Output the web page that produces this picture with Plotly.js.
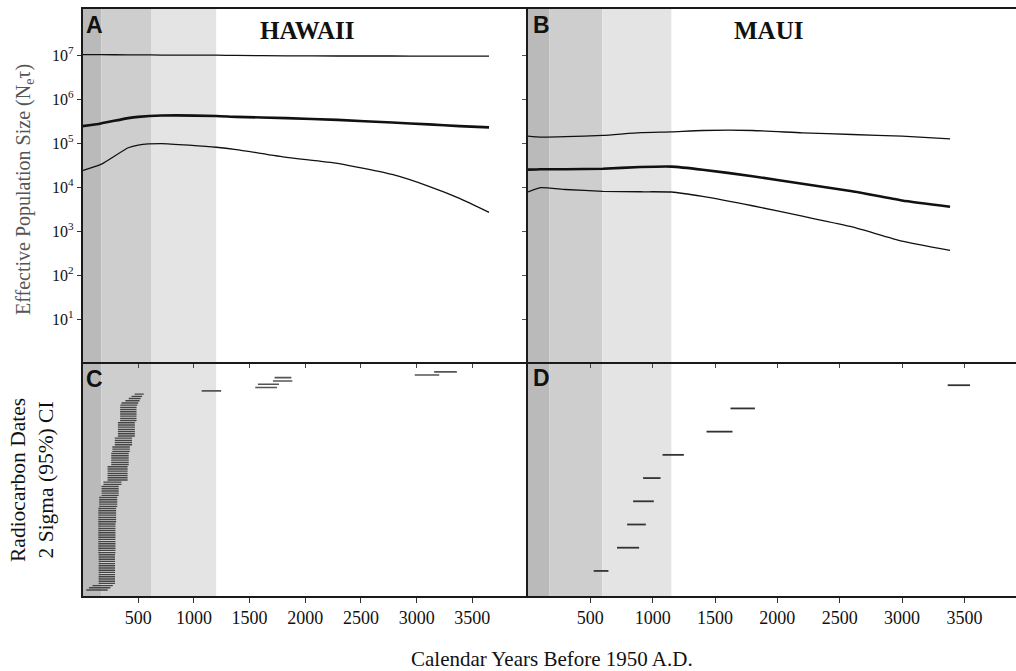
<!DOCTYPE html>
<html><head><meta charset="utf-8">
<script src="https://cdn.plot.ly/plotly-3.0.1.min.js"></script>
<style>html,body{margin:0;padding:0;background:#fff}</style>
</head><body><div id="chart" style="width:1016px;height:671px"></div>
<script>
// ---- Panel A: Hawaii effective population size (years before 1950 AD) ----
const hawaiiYears  = [0, 165, 410, 500, 710, 1200, 1380, 1830, 2290, 2780, 3110, 3385, 3650];
const hawaiiUpper  = [1.03e7, 1.03e7, 1.02e7, 1.02e7, 1.01e7, 1.0e7, 9.9e6, 9.7e6, 9.6e6, 9.6e6, 9.5e6, 9.5e6, 9.5e6];
const hawaiiMedian = [245000, 282000, 372000, 398000, 427000, 417000, 398000, 372000, 339000, 295000, 269000, 245000, 229000];
const hawaiiLower  = [24000, 33000, 79000, 91000, 98000, 81000, 72000, 48000, 35000, 19500, 10500, 5600, 2700];

// ---- Panel B: Maui ----
const mauiYears  = [0, 100, 300, 600, 900, 1150, 1400, 1800, 2200, 2600, 3000, 3385];
const mauiUpper  = [145000, 138000, 141000, 151000, 174000, 182000, 195000, 195000, 172000, 158000, 145000, 126000];
const mauiMedian = [25100, 25700, 25700, 26300, 28800, 29500, 25100, 17800, 12000, 8100, 5000, 3600];
const mauiLower  = [7800, 9800, 8900, 8100, 7900, 7800, 6200, 3800, 2200, 1260, 600, 370];

// ---- Panel C: Hawaii radiocarbon dates, 2 sigma ranges (bottom to top) ----
const hawaiiDateLow = [34, 58, 90,
  145,145,145,145,145,145,145,145,145,145,145,145,145,145,
  142,142,142,142,142,142,142,142,142,142,142,142,142,142,
  142,142,142,142,142,142,142,
  150,150,150,150,150,
  170,170,170,170,170,
  188,188,
  225,225,225,225,225,225,225,
  258,258,258,258,258,258,
  268,268,268,
  290,290,290,290,
  318,318,318,318,318,318,318,
  338,338,338,338,338,338,338,
  340,350,385,415,440,468];
const hawaiiDateHigh = [226, 250, 272,
  292,292,292,292,292,292,292,292,292,292,292,292,292,292,
  296,296,296,296,296,296,296,296,296,296,296,296,296,296,
  302,302,302,302,302,302,302,
  312,312,312,312,312,
  325,325,325,325,325,
  350,350,
  405,405,405,405,405,405,405,
  415,415,415,415,415,415,
  425,425,425,
  445,445,445,445,
  470,470,470,470,470,470,470,
  485,485,485,485,485,485,485,
  492,500,512,522,535,550];
const hawaiiOldRank = [91.5, 93, 94.5, 96, 97.5, 98.7, 100.1];
const hawaiiOldLow  = [1070, 1551, 1575, 1710, 1725, 2983, 3157];
const hawaiiOldHigh = [1245, 1746, 1764, 1884, 1875, 3203, 3361];

// ---- Panel D: Maui radiocarbon dates ----
const mauiDateLow  = [527, 714, 795, 843, 923, 1079, 1432, 1624, 3366];
const mauiDateHigh = [645, 891, 945, 1009, 1063, 1250, 1640, 1820, 3545];

// ---- Shaded periods ----
const hawaiiBandStart = [0, 170, 615];
const hawaiiBandEnd   = [170, 615, 1200];
const mauiBandStart   = [0, 170, 595];
const mauiBandEnd     = [170, 595, 1150];
const bandColors      = ['#bababa', '#cecece', '#e4e4e4'];

const xTicks = [500, 1000, 1500, 2000, 2500, 3000, 3500];
const yTickVals = [1e1, 1e2, 1e3, 1e4, 1e5, 1e6, 1e7];
const yTickText = ['10<sup>1</sup>','10<sup>2</sup>','10<sup>3</sup>','10<sup>4</sup>','10<sup>5</sup>','10<sup>6</sup>','10<sup>7</sup>'];

// ---- layout geometry ----
const W = 1016, H = 671;
const L = 82.5 / W, M = 528 / W;
const topDom = [1 - 362 / H, 1 - 9 / H];
const botDom = [1 - 596 / H, 1 - 362 / H];
const serif = 'Liberation Serif, Times New Roman, serif';
const sans = 'Liberation Sans, Arial, sans-serif';

function segs(lows, highs, ranks) {
  const x = [], y = [];
  for (let i = 0; i < lows.length; i++) {
    x.push(lows[i], highs[i], null);
    y.push(ranks[i], ranks[i], null);
  }
  return {x, y};
}
const cRanks = hawaiiDateLow.map((_, i) => i + 1);
const cMain = segs(hawaiiDateLow, hawaiiDateHigh, cRanks);
const cOld = segs(hawaiiOldLow, hawaiiOldHigh, hawaiiOldRank);
const dRanks = mauiDateLow.map((_, i) => i + 1);
const dMain = segs(mauiDateLow, mauiDateHigh, dRanks);

const lineT = (x, y, w, xa, ya) => ({type: 'scatter', mode: 'lines', x, y, xaxis: xa, yaxis: ya,
  line: {color: '#111', width: w, shape: 'spline', smoothing: 0.5}, hoverinfo: 'skip', showlegend: false});

const traces = [
  lineT(hawaiiYears, hawaiiUpper, 1.3, 'x', 'y'),
  lineT(hawaiiYears, hawaiiMedian, 2.6, 'x', 'y'),
  lineT(hawaiiYears, hawaiiLower, 1.3, 'x', 'y'),
  lineT(mauiYears, mauiUpper, 1.3, 'x2', 'y2'),
  lineT(mauiYears, mauiMedian, 2.6, 'x2', 'y2'),
  lineT(mauiYears, mauiLower, 1.3, 'x2', 'y2'),
  {type: 'scatter', mode: 'lines', x: cMain.x, y: cMain.y, xaxis: 'x3', yaxis: 'y3', connectgaps: false,
   line: {color: '#444', width: 1.4}, showlegend: false, hoverinfo: 'skip'},
  {type: 'scatter', mode: 'lines', x: cOld.x, y: cOld.y, xaxis: 'x3', yaxis: 'y3', connectgaps: false,
   line: {color: '#555', width: 1.6}, showlegend: false, hoverinfo: 'skip'},
  {type: 'scatter', mode: 'lines', x: dMain.x, y: dMain.y, xaxis: 'x4', yaxis: 'y4', connectgaps: false,
   line: {color: '#333', width: 1.8}, showlegend: false, hoverinfo: 'skip'}
];

const shapes = [];
hawaiiBandStart.forEach((s, i) => shapes.push({type: 'rect', xref: 'x', yref: 'paper', x0: s, x1: hawaiiBandEnd[i],
  y0: botDom[0], y1: topDom[1], fillcolor: bandColors[i], line: {width: 0}, layer: 'below'}));
mauiBandStart.forEach((s, i) => shapes.push({type: 'rect', xref: 'x2', yref: 'paper', x0: s, x1: mauiBandEnd[i],
  y0: botDom[0], y1: topDom[1], fillcolor: bandColors[i], line: {width: 0}, layer: 'below'}));

const axLine = {showline: true, linecolor: '#1a1a1a', linewidth: 1.8, showgrid: false, zeroline: false, fixedrange: true};
const xTop = (dom, range, anchor) => Object.assign({}, axLine, {domain: dom, range, anchor, mirror: true,
  ticks: 'outside', ticklen: 4, tickcolor: '#444', tickvals: xTicks, showticklabels: false});
const xBot = (dom, range, anchor) => Object.assign({}, axLine, {domain: dom, range, anchor,
  ticks: 'outside', ticklen: 5, tickcolor: '#333', tickvals: xTicks,
  tickfont: {family: serif, size: 18, color: '#111'}});

const layout = {
  width: W, height: H, margin: {l: 0, r: 0, t: 0, b: 0},
  paper_bgcolor: '#fff', plot_bgcolor: 'rgba(0,0,0,0)', showlegend: false,
  xaxis: xTop([L, M], [0, 4000], 'y'),
  xaxis2: xTop([M, 1], [0, 3914], 'y2'),
  xaxis3: xBot([L, M], [0, 4000], 'y3'),
  xaxis4: xBot([M, 1], [0, 3914], 'y4'),
  yaxis: Object.assign({}, axLine, {domain: topDom, type: 'log', range: [0.03, 8.05], anchor: 'x',
    ticks: 'outside', ticklen: 4, tickcolor: '#333', tickvals: yTickVals, ticktext: yTickText,
    tickfont: {family: serif, size: 16, color: '#111'}}),
  yaxis2: Object.assign({}, axLine, {domain: topDom, type: 'log', range: [0.03, 8.05], anchor: 'x2',
    ticks: 'outside', ticklen: 4, tickcolor: '#555', tickvals: yTickVals, showticklabels: false}),
  yaxis3: Object.assign({}, axLine, {domain: botDom, range: [-1.73, 104.6], anchor: 'x3',
    ticks: '', showticklabels: false}),
  yaxis4: Object.assign({}, axLine, {domain: botDom, range: [-0.08, 10], anchor: 'x4',
    ticks: '', showticklabels: false}),
  shapes,
  annotations: [
    {text: '<b>HAWAII</b>', x: 307 / W, y: 1 - 30 / H, xref: 'paper', yref: 'paper', showarrow: false,
     xanchor: 'center', yanchor: 'middle', font: {family: serif, size: 25, color: '#111'}},
    {text: '<b>MAUI</b>', x: 768 / W, y: 1 - 30 / H, xref: 'paper', yref: 'paper', showarrow: false,
     xanchor: 'center', yanchor: 'middle', font: {family: serif, size: 25, color: '#111'}},
    {text: '<b>A</b>', x: 94.5 / W, y: 1 - 25 / H, xref: 'paper', yref: 'paper', showarrow: false,
     xanchor: 'center', yanchor: 'middle', font: {family: sans, size: 23, color: '#111'}},
    {text: '<b>B</b>', x: 541 / W, y: 1 - 25 / H, xref: 'paper', yref: 'paper', showarrow: false,
     xanchor: 'center', yanchor: 'middle', font: {family: sans, size: 23, color: '#111'}},
    {text: '<b>C</b>', x: 94.5 / W, y: 1 - 379 / H, xref: 'paper', yref: 'paper', showarrow: false,
     xanchor: 'center', yanchor: 'middle', font: {family: sans, size: 23, color: '#111'}},
    {text: '<b>D</b>', x: 541 / W, y: 1 - 378 / H, xref: 'paper', yref: 'paper', showarrow: false,
     xanchor: 'center', yanchor: 'middle', font: {family: sans, size: 23, color: '#111'}},
    {text: 'Effective Population Size (N<sub>e</sub>τ)', x: 24 / W, y: 1 - 190 / H, xref: 'paper', yref: 'paper',
     showarrow: false, textangle: -90, xanchor: 'center', yanchor: 'middle',
     font: {family: serif, size: 20, color: '#555'}},
    {text: 'Radiocarbon Dates<br>2 Sigma (95%) CI', x: 32 / W, y: 1 - 480 / H, xref: 'paper', yref: 'paper',
     showarrow: false, textangle: -90, xanchor: 'center', yanchor: 'middle',
     font: {family: serif, size: 21.5, color: '#111'}},
    {text: 'Calendar Years Before 1950 A.D.', x: 552 / W, y: 1 - 659 / H, xref: 'paper', yref: 'paper',
     showarrow: false, xanchor: 'center', yanchor: 'middle', font: {family: serif, size: 21, color: '#111'}}
  ]
};

Plotly.newPlot('chart', traces, layout, {staticPlot: true, displayModeBar: false});
</script>
</body></html>
